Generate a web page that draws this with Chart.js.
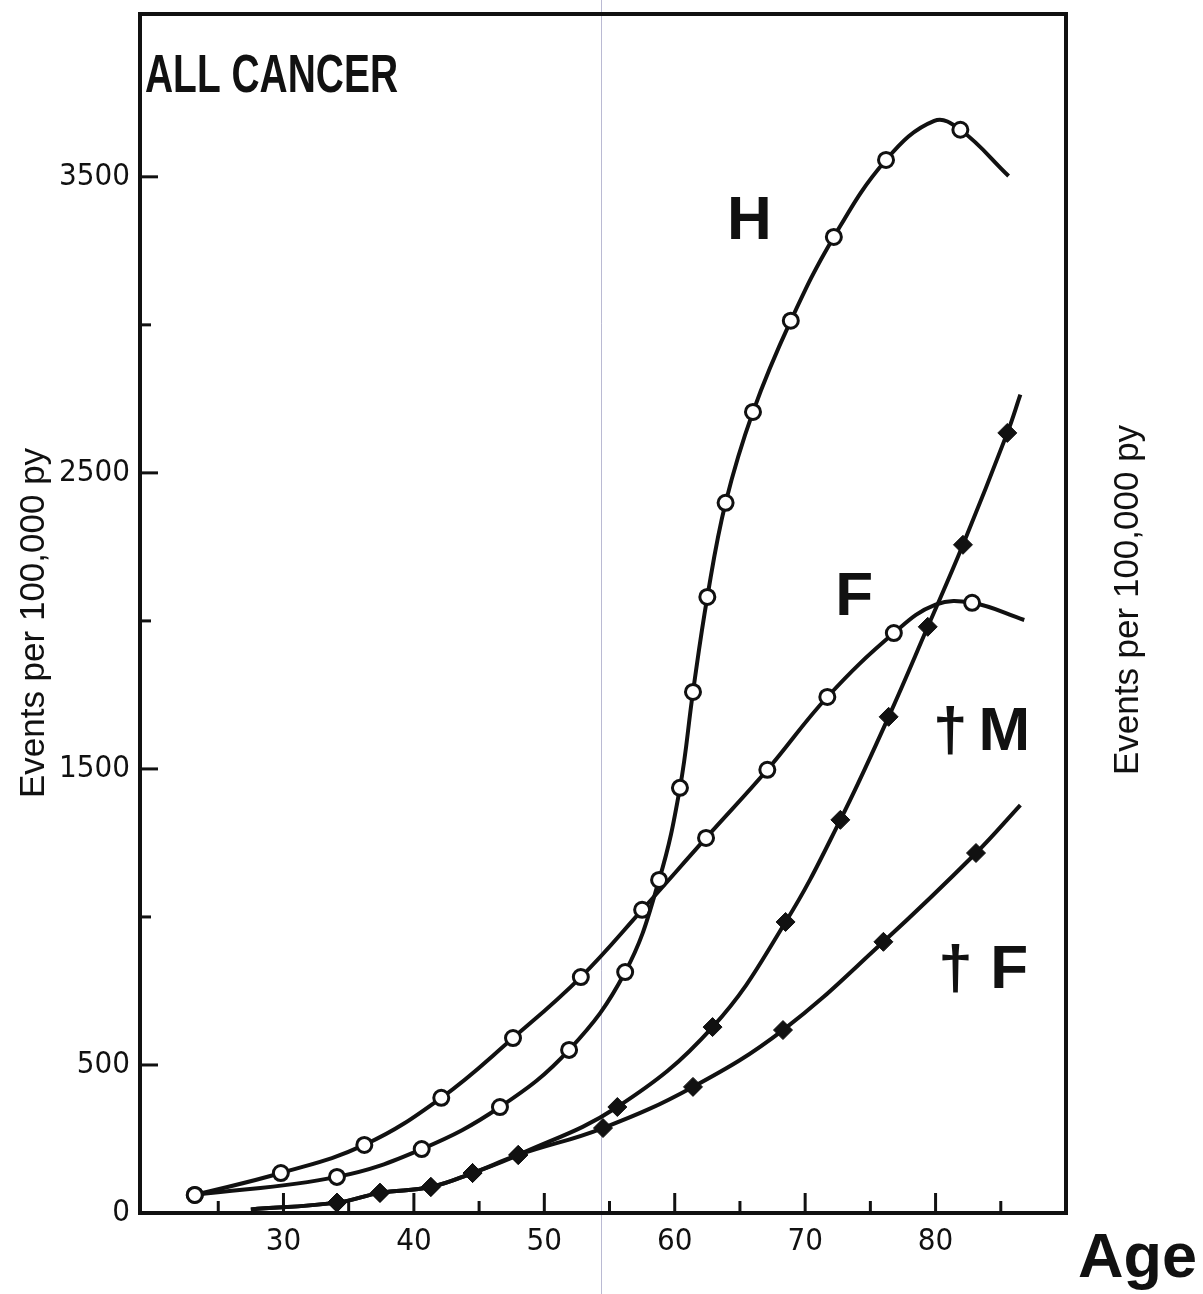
<!DOCTYPE html>
<html>
<head>
<meta charset="utf-8">
<title>All cancer</title>
<script src="https://cdn.jsdelivr.net/npm/chart.js@4.4.1/dist/chart.umd.min.js"></script>
<style>
html, body { margin: 0; padding: 0; background: #fff; overflow: hidden; }
#wrap { width: 1203px; height: 1294px; }
</style>
</head>
<body>
<div id="wrap"><canvas id="myChart"></canvas></div>
<script>
// values: age (years) vs events per 100,000 py
const hAge = [23.2, 34.1, 40.6, 46.6, 51.9, 56.2, 58.8, 60.4, 61.4, 62.5, 63.9, 66.0, 68.9, 72.2, 76.2, 81.9]
const hVal = [61, 122, 216, 358, 551, 814, 1125, 1436, 1760, 2081, 2399, 2706, 3014, 3297, 3557, 3659]
const hPeak = [79.9, 3689]   // top of the drawn curve (no marker)
const hEnd = [85.6, 3503]    // where the curve stops

const fAge = [23.2, 29.8, 36.2, 42.1, 47.6, 52.8, 57.5, 62.4, 67.1, 71.7, 76.8, 82.8]
const fVal = [61, 135, 230, 389, 591, 797, 1024, 1267, 1497, 1743, 1959, 2061]
const fPeak = [80.0, 2055]
const fEnd = [86.8, 2003]

// deaths, males
const mStart = [27.5, 12]
const mAge = [34.1, 37.4, 41.3, 44.5, 48.0, 55.6, 62.9, 68.5, 72.7, 76.4, 79.4, 82.1, 85.5]
const mVal = [35, 68, 88, 135, 196, 358, 628, 983, 1328, 1676, 1980, 2257, 2635]
const mEnd = [86.5, 2764]

// deaths, females
const dfStart = [27.5, 12]
const dfAge = [34.1, 37.4, 41.3, 44.5, 48.0, 54.5, 61.4, 68.3, 76.0, 83.1]
const dfVal = [35, 68, 88, 135, 196, 287, 426, 618, 916, 1216]
const dfEnd = [86.5, 1378]

const xTicks = [25, 30, 35, 40, 45, 50, 55, 60, 65, 70, 75, 80, 85]
const xLabelled = [30, 40, 50, 60, 70, 80]
const yTicks = [0, 500, 1000, 1500, 2000, 2500, 3000, 3500]
const yLabelled = [0, 500, 1500, 2500, 3500]

// curve names, placed in data units
const curveLabels = [
  { text: 'H', age: 64.0, val: 3290 },
  { text: 'F', age: 72.3, val: 2020 },
  { text: '\u2020', age: 79.8, val: 1565 },
  { text: 'M', age: 83.3, val: 1565 },
  { text: '\u2020', age: 80.2, val: 760 },
  { text: 'F', age: 84.2, val: 760 }
]

const INK = '#111'
const SANS = "'Liberation Sans', Arial, sans-serif"
const NARROW = "'DejaVu Sans Condensed', 'Liberation Sans', sans-serif"

function marked(ages, vals) {
  return ages.map((a, i) => ({ x: a, y: vals[i], mark: true }))
}
function bare(p) {
  return { x: p[0], y: p[1], mark: false }
}
function byAge(a, b) { return a.x - b.x }

const hData = [...marked(hAge, hVal), bare(hPeak), bare(hEnd)].sort(byAge)
const fData = [...marked(fAge, fVal), bare(fPeak), bare(fEnd)].sort(byAge)
const mData = [bare(mStart), ...marked(mAge, mVal), bare(mEnd)].sort(byAge)
const dfData = [bare(dfStart), ...marked(dfAge, dfVal), bare(dfEnd)].sort(byAge)

function openSeries(label, data) {
  return {
    label: label,
    data: data,
    borderColor: INK,
    borderWidth: 4,
    tension: 0.4,
    pointStyle: 'circle',
    pointRadius: c => (c.raw && c.raw.mark ? 7.5 : 0),
    pointBackgroundColor: '#fff',
    pointBorderColor: INK,
    pointBorderWidth: 3,
    clip: false
  }
}
function filledSeries(label, data) {
  return {
    label: label,
    data: data,
    borderColor: INK,
    borderWidth: 4,
    tension: 0.4,
    pointStyle: 'rectRot',
    pointRadius: c => (c.raw && c.raw.mark ? 9.5 : 0),
    pointBackgroundColor: INK,
    pointBorderColor: INK,
    pointBorderWidth: 1,
    clip: false
  }
}

function line(ctx, x1, y1, x2, y2) {
  ctx.beginPath()
  ctx.moveTo(x1, y1)
  ctx.lineTo(x2, y2)
  ctx.stroke()
}

// squeeze a string to a given width, like the condensed type of the scan
function fitText(ctx, text, x, y, width) {
  const w = ctx.measureText(text).width
  ctx.save()
  ctx.translate(x, y)
  ctx.scale(width / w, 1)
  ctx.fillText(text, 0, 0)
  ctx.restore()
}

const deco = {
  id: 'deco',
  beforeDatasetsDraw(chart) {
    // faint seam from the scan
    const ctx = chart.ctx
    ctx.save()
    ctx.strokeStyle = 'rgba(130,130,175,0.55)'
    ctx.lineWidth = 1
    line(ctx, 601.5, 0, 601.5, chart.height)
    ctx.restore()
  },
  afterDraw(chart) {
    const { ctx, chartArea: a, scales: { x, y } } = chart
    ctx.save()
    ctx.strokeStyle = INK
    ctx.lineWidth = 4
    ctx.strokeRect(a.left, a.top, a.right - a.left, a.bottom - a.top)

    // ticks point into the plot
    ctx.lineWidth = 3
    x.ticks.forEach(t => {
      const px = x.getPixelForValue(t.value)
      const len = t.value % 10 === 0 ? 20 : 12
      line(ctx, px, a.bottom, px, a.bottom - len)
    })
    y.ticks.forEach(t => {
      if (t.value === 0) return
      const py = y.getPixelForValue(t.value)
      const len = t.value % 1000 === 500 ? 18 : 11
      line(ctx, a.left, py, a.left + len, py)
    })

    ctx.fillStyle = INK
    ctx.textBaseline = 'alphabetic'
    ctx.textAlign = 'left'
    ctx.font = 'bold 54px ' + SANS
    fitText(ctx, 'ALL CANCER', a.left + 5, a.top + 78, 253)

    ctx.font = 'bold 62px ' + SANS
    curveLabels.forEach(l => {
      ctx.fillText(l.text, x.getPixelForValue(l.age), y.getPixelForValue(l.val))
    })

    ctx.textAlign = 'right'
    ctx.font = 'bold 63px ' + SANS
    ctx.fillText('Age', chart.width - 6, 1277)

    // axis titles, both reading upwards
    ctx.font = '35px ' + SANS
    ctx.textAlign = 'center'
    ctx.textBaseline = 'middle'
    ;[[34, 623], [1128, 600]].forEach(p => {
      ctx.save()
      ctx.translate(p[0], p[1])
      ctx.rotate(-Math.PI / 2)
      ctx.fillText('Events per 100,000 py', 0, 0)
      ctx.restore()
    })
    ctx.restore()
  }
}

const config = {
  type: 'line',
  data: {
    datasets: [
      openSeries('H', hData),
      openSeries('F', fData),
      filledSeries('\u2020M', mData),
      filledSeries('\u2020F', dfData)
    ]
  },
  options: {
    responsive: true,
    maintainAspectRatio: false,
    animation: false,
    layout: { padding: { top: 14, right: 137, left: 0, bottom: 0 } },
    plugins: { legend: { display: false }, tooltip: { enabled: false } },
    scales: {
      x: {
        type: 'linear',
        min: 19,
        max: 90,
        afterBuildTicks: s => { s.ticks = xTicks.map(v => ({ value: v })) },
        afterFit: s => { s.height = 81; s.paddingLeft = 0; s.paddingRight = 0 },
        grid: { display: false, drawTicks: false },
        border: { display: false },
        ticks: {
          autoSkip: false,
          maxRotation: 0,
          padding: 10,
          color: INK,
          font: { family: NARROW, size: 31 },
          callback: v => (xLabelled.includes(v) ? String(v) : '')
        }
      },
      y: {
        type: 'linear',
        min: 0,
        max: 4050,
        afterBuildTicks: s => { s.ticks = yTicks.map(v => ({ value: v })) },
        afterFit: s => { s.width = 140; s.paddingTop = 0; s.paddingBottom = 0 },
        grid: { display: false, drawTicks: false },
        border: { display: false },
        ticks: {
          autoSkip: false,
          padding: 10,
          color: INK,
          font: { family: NARROW, size: 31 },
          callback: v => (yLabelled.includes(v) ? String(v) : '')
        }
      }
    }
  },
  plugins: [deco]
}

const myChart = new Chart(document.getElementById('myChart'), config)
</script>
</body>
</html>
